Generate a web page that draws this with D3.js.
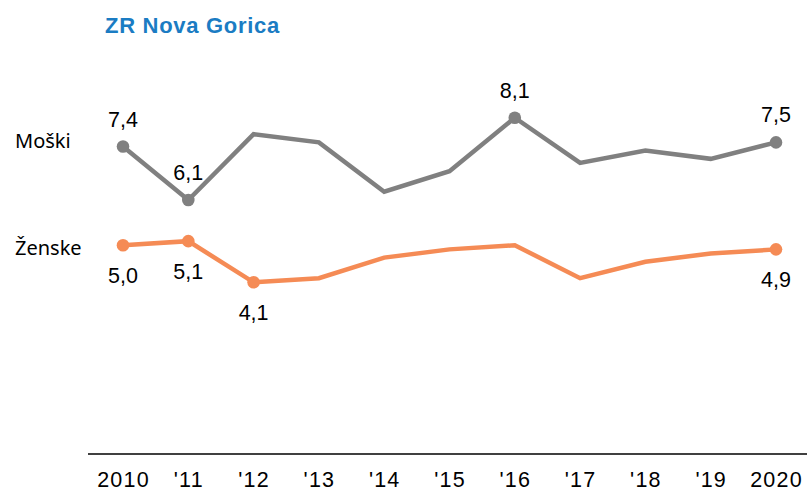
<!DOCTYPE html>
<html>
<head>
<meta charset="utf-8">
<script src="https://cdn.jsdelivr.net/npm/d3@7"></script>
<style>
  body { margin: 0; background: #fff; }
  svg { display: block; font-family: 'Liberation Sans', Arial, sans-serif; }
</style>
</head>
<body>
<div id="chart"></div>
<script>
const years = ['2010', "'11", "'12", "'13", "'14", "'15", "'16", "'17", "'18", "'19", '2020'];
const moski = [7.4, 6.1, 7.7, 7.5, 6.3, 6.8, 8.1, 7.0, 7.3, 7.1, 7.5];
const zenske = [5.0, 5.1, 4.1, 4.2, 4.7, 4.9, 5.0, 4.2, 4.6, 4.8, 4.9];
// indices of points that carry a marker and value label
const moskiLabeled = [0, 1, 6, 10];
const zenskeLabeled = [0, 1, 2, 10];

const width = 807;
const height = 490;

const series = [
  { name: 'Moški', values: moski, labeled: moskiLabeled, color: '#808080', above: true, labelY: 148 },
  { name: 'Ženske', values: zenske, labeled: zenskeLabeled, color: '#F58B55', above: false, labelY: 255 }
];

const svg = d3.select('#chart')
  .append('svg')
  .attr('width', width)
  .attr('height', height);

svg.append('text')
  .attr('x', 105)
  .attr('y', 33)
  .attr('fill', '#1B7CC3')
  .attr('font-weight', 'bold')
  .attr('font-size', 22)
  .attr('letter-spacing', 0.7)
  .text('ZR Nova Gorica');

const x = d3.scalePoint()
  .domain(years)
  .range([123, 776]);

const y = d3.scaleLinear()
  .domain([0, 8.1])
  .range([451, 117.7]);

const axisY = 454;

svg.append('line')
  .attr('x1', 88)
  .attr('x2', width)
  .attr('y1', axisY)
  .attr('y2', axisY)
  .attr('stroke', '#404040')
  .attr('stroke-width', 2);

const xAxis = svg.append('g')
  .attr('transform', `translate(0,${axisY})`)
  .call(d3.axisBottom(x).tickSize(0).tickPadding(0));
xAxis.select('.domain').remove();
xAxis.selectAll('text')
  .attr('dy', null)
  .attr('y', 32.5)
  .attr('font-size', 21.5)
  .attr('letter-spacing', 1.2)
  .attr('fill', '#000')
  .attr('font-family', "'Liberation Sans', Arial, sans-serif");

const line = d3.line()
  .x((d, i) => x(years[i]))
  .y(d => y(d));

const fmt = v => d3.format('.1f')(v).replace('.', ',');

series.forEach(s => {
  svg.append('text')
    .attr('x', 15)
    .attr('y', s.labelY)
    .attr('font-size', 20)
    .attr('font-family', "'Noto Sans', 'Open Sans', sans-serif")
    .attr('fill', '#000')
    .text(s.name);

  svg.append('path')
    .datum(s.values)
    .attr('fill', 'none')
    .attr('stroke', s.color)
    .attr('stroke-width', 4.5)
    .attr('stroke-linejoin', 'miter')
    .attr('d', line);

  const pts = s.labeled.map(i => ({ i, v: s.values[i] }));

  svg.selectAll(null)
    .data(pts)
    .enter()
    .append('circle')
    .attr('cx', d => x(years[d.i]))
    .attr('cy', d => y(d.v))
    .attr('r', 6.3)
    .attr('fill', s.color);

  svg.selectAll(null)
    .data(pts)
    .enter()
    .append('text')
    .attr('x', d => x(years[d.i]))
    .attr('y', d => y(d.v) + (s.above ? -20 : 38))
    .attr('text-anchor', 'middle')
    .attr('font-size', 21.5)
    .attr('fill', '#000')
    .text(d => fmt(d.v));
});
</script>
</body>
</html>
